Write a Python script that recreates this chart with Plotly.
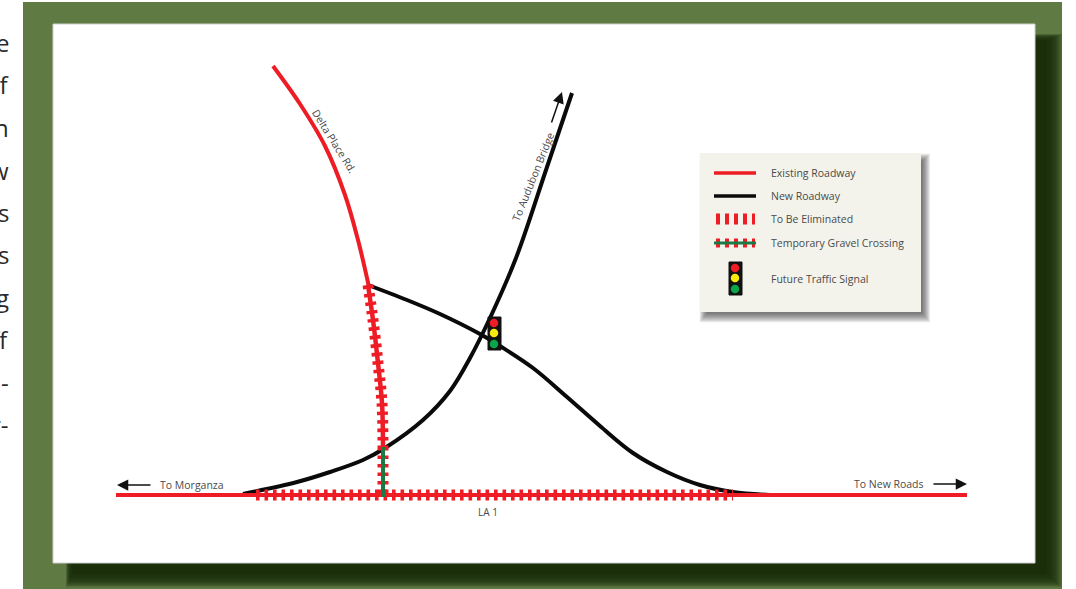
import plotly.graph_objects as go

W, H = 1076, 589
GREEN = "#5f7a43"
DARK = "#1a2e0a"
RED = "#ee1c25"
BLACK = "#0a0a0a"
GRAVEL = "#1b7a43"
TEXT = "#4a4a4a"
FONT = "Open Sans"

# Roads (picture coordinates)
delta_x = [273, 300, 325, 345, 358, 369]
delta_y = [66, 104, 146, 195, 240, 287]
elim_delta_x = [368, 373, 378, 382, 383]
elim_delta_y = [285, 320, 363, 403, 447]
gravel_x = [383, 383]
gravel_y = [447, 497]
la1_x = [116, 967]
la1_y = [495, 495]
la1_elim_x = [256, 733]
la1_elim_y = [495, 495]
bridge_x = [243, 297, 330, 363, 385, 423, 450, 470, 490, 516, 546, 572]
bridge_y = [494, 482, 472, 460, 448, 420, 391, 358, 318, 258, 170, 93]
newroads_x = [368, 407, 440, 480, 500, 533, 567, 600, 633, 667, 700, 733, 770]
newroads_y = [285, 300, 314, 334, 346, 368, 397, 426, 453, 472, 485, 492, 495]

# Legend
legend_labels = ["Existing Roadway", "New Roadway", "To Be Eliminated",
                 "Temporary Gravel Crossing", "Future Traffic Signal"]
legend_label_y = [173, 196, 219, 243, 279]
legend_line_x = [714, 756]
legend_line_y = [173, 196, 219, 243]

# Signals: x centre, y of three lamps
signal_lamp_colors = ["#ee1c25", "#f7e80f", "#0aa54b"]
signal_main_x = 494
signal_main_y = [323, 333, 344]
signal_main_box = [488, 501, 317, 350]
signal_leg_x = 735
signal_leg_y = [268, 278, 289]
signal_leg_box = [729, 742, 262, 295]

# Cut-off body text at the page's left edge
side_text = ["e", "of", "n", "w", "s", "s", "g", "ff", "-", "r-"]
side_text_y = [42, 84, 127, 170, 212, 254, 297, 339, 382, 424]

fig = go.Figure()
shapes = [
    dict(type="rect", x0=23, x1=1062, y0=2, y1=589, fillcolor=GREEN, line_width=0, layer="below"),
]
# soft card shadow: stacked translucent rects, solid core
for i in range(12, 0, -1):
    shapes.append(dict(type="rect", x0=72 - i * 0.5, x1=1047 + i * 1.25, y0=40 - i * 0.5, y1=574 + i * 1.1,
                       fillcolor=DARK, opacity=0.2, line_width=0, layer="below"))
shapes.append(dict(type="rect", x0=72, x1=1047, y0=40, y1=574, fillcolor=DARK, line_width=0, layer="below"))
shapes.append(dict(type="rect", x0=53, x1=1035, y0=24, y1=563, fillcolor="white",
                   line=dict(color="#cfcfcf", width=1), layer="below"))
# soft legend shadow
for i in range(14, 0, -1):
    shapes.append(dict(type="rect", x0=708 - i * 0.6, x1=921 + i * 0.65, y0=162 - i * 0.6, y1=312 + i * 0.75,
                       fillcolor="#333333", opacity=0.065, line_width=0, layer="below"))
shapes.append(dict(type="rect", x0=700, x1=921, y0=153, y1=312, fillcolor="#f3f3ec",
                   line_width=0, layer="below"))


def road(x, y, color, width, dash="solid", smooth=True):
    fig.add_trace(go.Scatter(
        x=x, y=y, mode="lines",
        line=dict(color=color, width=width, dash=dash,
                  shape="spline" if smooth else "linear", smoothing=1.0),
        hoverinfo="skip", showlegend=False))


TICKS = "3.6px,4.9px"
road(bridge_x, bridge_y, BLACK, 4)
road(newroads_x, newroads_y, BLACK, 4)
road(la1_x, la1_y, RED, 4, smooth=False)
road(delta_x, delta_y, RED, 4)
road(elim_delta_x, elim_delta_y, RED, 11, TICKS)
road(elim_delta_x, elim_delta_y, RED, 4.5)
road(la1_elim_x, la1_elim_y, RED, 11, TICKS, smooth=False)
road(gravel_x, gravel_y, RED, 11, TICKS, smooth=False)
road(gravel_x, gravel_y, GRAVEL, 4, smooth=False)

# Legend samples
road(legend_line_x, [legend_line_y[0]] * 2, RED, 3.5, smooth=False)
road(legend_line_x, [legend_line_y[1]] * 2, BLACK, 3.5, smooth=False)
road([716, 755], [legend_line_y[2]] * 2, RED, 11, "4px,5px", smooth=False)
road([716, 755], [legend_line_y[3]] * 2, RED, 9, "4px,5px", smooth=False)
road(legend_line_x, [legend_line_y[3]] * 2, GRAVEL, 3, smooth=False)


def signal(box, cx, lamp_y):
    x0, x1, y0, y1 = box
    fig.add_trace(go.Scatter(
        x=[x0, x1, x1, x0, x0], y=[y0, y0, y1, y1, y0], mode="lines", fill="toself",
        fillcolor="#111111", line=dict(color="#111111", width=1),
        hoverinfo="skip", showlegend=False))
    fig.add_trace(go.Scatter(
        x=[cx] * 3, y=lamp_y, mode="markers",
        marker=dict(color=signal_lamp_colors, size=8.5, line_width=0),
        hoverinfo="skip", showlegend=False))


signal(signal_main_box, signal_main_x, signal_main_y)
signal(signal_leg_box, signal_leg_x, signal_leg_y)

ann = []


def label(x, y, text, size=10.5, angle=0, anchor="center", color=TEXT):
    ann.append(dict(x=x, y=y, text=text, showarrow=False, textangle=angle, xanchor=anchor,
                    yanchor="middle", font=dict(family=FONT, size=size, color=color)))


def arrow(x0, y0, x1, y1):
    ann.append(dict(x=x1, y=y1, ax=x0, ay=y0, axref="x", ayref="y", xref="x", yref="y", text="",
                    showarrow=True, arrowhead=2, arrowsize=1.5, arrowwidth=1.5, arrowcolor="#111111"))


label(192, 485, "To Morganza", 10.5)
label(889, 484, "To New Roads", 10.5)
label(488, 512, "LA 1", 10)
label(334, 141, "Delta Place Rd.", 10.5, 58)
label(533, 177, "To Audubon Bridge", 10.5, -68)
arrow(152, 485, 117, 485)
arrow(932, 484, 967, 484)
arrow(551, 124, 562, 92)
for t, y in zip(legend_labels, legend_label_y):
    label(769, y, t, 10.5, anchor="left")
for t, y in zip(side_text, side_text_y):
    label(11, y, t, 24, anchor="right", color="#2a2a2a")

fig.update_layout(
    width=W, height=H, margin=dict(l=0, r=0, t=0, b=0),
    paper_bgcolor="white", plot_bgcolor="white", showlegend=False,
    hovermode=False, shapes=shapes, annotations=ann,
    xaxis=dict(range=[0, W], visible=False, fixedrange=True),
    yaxis=dict(range=[H, 0], visible=False, fixedrange=True),
)
fig.write_html("out.html", config={"displayModeBar": False},
               post_script="document.body.style.margin='0';document.body.style.overflow='hidden';")
